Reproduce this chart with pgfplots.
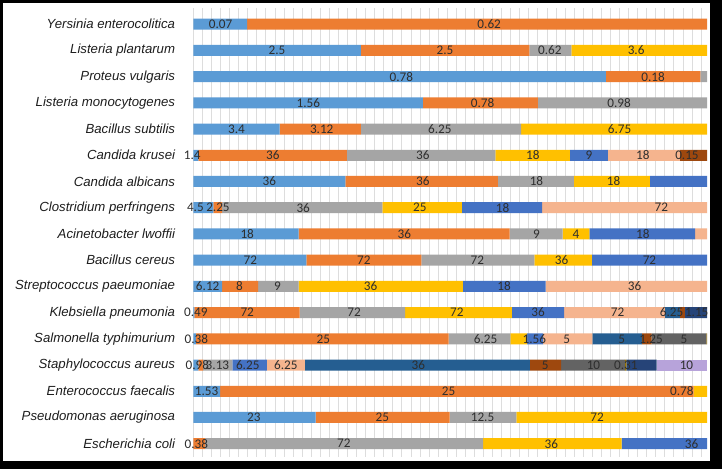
\documentclass[border=0pt]{standalone}
\usepackage{fontspec}
\usepackage{pgfplots}
\usepackage{pgfplotstable}
\pgfplotsset{compat=1.18}
\newfontfamily\arialfont{Liberation Sans}
\newfontfamily\calfont{Carlito}
\definecolor{c1}{HTML}{5B9BD5}
\definecolor{c2}{HTML}{ED7D31}
\definecolor{c3}{HTML}{A5A5A5}
\definecolor{c4}{HTML}{FFC000}
\definecolor{c5}{HTML}{4472C4}
\definecolor{c6}{HTML}{F5B48E}
\definecolor{c7}{HTML}{255E91}
\definecolor{c8}{HTML}{9E480E}
\definecolor{c9}{HTML}{636363}
\definecolor{c10}{HTML}{997300}
\definecolor{c11}{HTML}{264478}
\definecolor{c12}{HTML}{B7A3DA}
\definecolor{lbl}{HTML}{2E2E2E}
\definecolor{cat}{HTML}{1E1E1E}
\definecolor{gridc}{HTML}{DDDDDD}

\pgfplotstableread{
y s1 s2 s3 s4 s5 s6 s7 s8 s9 s10 s11 s12
0 10.5 89.5 0 0 0 0 0 0 0 0 0 0
1 32.6 32.8 8.2 26.4 0 0 0 0 0 0 0 0
2 80.3 18.4 1.3 0 0 0 0 0 0 0 0 0
3 44.7 22.4 32.9 0 0 0 0 0 0 0 0 0
4 16.8 15.8 31.2 36.2 0 0 0 0 0 0 0 0
5 1.0 28.9 28.9 14.5 7.4 14.0 0 5.3 0 0 0 0
6 29.6 29.7 14.8 14.8 11.1 0 0 0 0 0 0 0
7 3.9 1.7 31.2 15.5 15.6 32.1 0 0 0 0 0 0
8 20.5 41.1 10.3 5.2 20.6 2.3 0 0 0 0 0 0
9 22.0 22.4 22.0 11.2 22.4 0 0 0 0 0 0 0
10 5.6 7.0 7.9 32.0 16.1 31.4 0 0 0 0 0 0
11 0.2 20.5 20.55 20.75 10.2 19.6 2.9 1.0 0 0 4.3 0
12 0.5 49.2 12.0 3.3 3.1 9.6 9.6 1.9 10.7 0.1 0 0
13 1.0 0.9 5.7 0 6.7 7.4 43.8 6.1 12.4 0.3 5.9 9.8
14 5.2 92.2 0 2.6 0 0 0 0 0 0 0 0
15 23.8 26.1 13.0 37.1 0 0 0 0 0 0 0 0
16 0 2.3 54.1 27.0 16.6 0 0 0 0 0 0 0
}\bars

\pgfplotstableread{
x y label
5.3 0 0.07
57.6 0 0.62
16.3 1 2.5
49.0 1 2.5
69.4 1 0.62
86.2 1 3.6
40.5 2 0.78
89.5 2 0.18
22.4 3 1.56
56.3 3 0.78
82.9 3 0.98
8.4 4 3.4
25.0 4 3.12
48.0 4 6.25
83.0 4 6.75
-0.2 5 1.4
15.5 5 36
44.7 5 36
66.1 5 18
77.0 5 9
87.5 5 18
96.1 5 0.15
14.8 6 36
44.7 6 36
66.8 6 18
81.8 6 18
0.4 7 4.5
4.8 7 2.25
21.4 7 36
44.1 7 25
60.2 7 18
91.1 7 72
10.5 8 18
41.1 8 36
66.8 8 9
74.5 8 4
87.5 8 18
11.1 9 72
33.2 9 72
55.3 9 72
71.7 9 36
88.8 9 72
2.8 10 6.12
9.0 10 8
16.4 10 9
34.5 10 36
60.5 10 18
85.9 10 36
0.5 11 0.49
10.5 11 72
31.3 11 72
51.3 11 72
67.1 11 36
82.6 11 72
93.1 11 6.25
98.0 11 1.15
0.6 12 0.38
25.3 12 25
56.9 12 6.25
66.4 12 1.56
72.7 12 5
83.4 12 5
89.1 12 1.25
95.5 12 5
0.8 13 0.98
4.7 13 3.13
10.6 13 6.25
18.0 13 6.25
43.8 13 36
68.5 13 5
77.9 13 10
84.2 13 0.31
96.0 13 10
2.6 14 1.53
49.7 14 25
95.1 14 0.78
11.8 15 23
36.8 15 25
56.3 15 12.5
78.6 15 72
0.6 16 0.38
29.3 16 72
69.7 16 36
97.0 16 36
}\labels

\pgfplotsset{
  common/.style={
    at={(450.15pt,-232.6pt)}, anchor=center,
    scale only axis, width=513.7pt, height=448.4pt,
    xmin=0, xmax=100, ymin=-0.6, ymax=16.5, y dir=reverse,
  }
}

\begin{document}
\begin{tikzpicture}
\fill[black] (0pt,0pt) rectangle (722pt,-469pt);
\fill[white] (3pt,-3pt) rectangle (710pt,-461pt);
\begin{axis}[common,
  xbar stacked, bar width=11pt,
  axis line style={draw=none},
  major tick length=0pt,
  xtick={0,1.765,...,100}, xticklabel=\empty,
  xmajorgrids, grid style={draw=gridc, line width=0.7pt},
  ytick={0,...,16},
  yticklabels={Yersinia enterocolitica, Listeria plantarum, Proteus vulgaris, Listeria monocytogenes, Bacillus subtilis, Candida krusei, Candida albicans, Clostridium perfringens, Acinetobacter lwoffii, Bacillus cereus, Streptococcus paeumoniae, Klebsiella pneumonia, Salmonella typhimurium, Staphylococcus aureus, Enterococcus faecalis, Pseudomonas aeruginosa, Escherichia coli},
  yticklabel style={font=\arialfont\itshape\fontsize{13.2}{15}\selectfont, text=cat, anchor=east, inner sep=0pt, xshift=-18pt},
]
\addplot[fill=c1, draw=none] table[x=s1, y=y] {\bars};
\addplot[fill=c2, draw=none] table[x=s2, y=y] {\bars};
\addplot[fill=c3, draw=none] table[x=s3, y=y] {\bars};
\addplot[fill=c4, draw=none] table[x=s4, y=y] {\bars};
\addplot[fill=c5, draw=none] table[x=s5, y=y] {\bars};
\addplot[fill=c6, draw=none] table[x=s6, y=y] {\bars};
\addplot[fill=c7, draw=none] table[x=s7, y=y] {\bars};
\addplot[fill=c8, draw=none] table[x=s8, y=y] {\bars};
\addplot[fill=c9, draw=none] table[x=s9, y=y] {\bars};
\addplot[fill=c10, draw=none] table[x=s10, y=y] {\bars};
\addplot[fill=c11, draw=none] table[x=s11, y=y] {\bars};
\addplot[fill=c12, draw=none] table[x=s12, y=y] {\bars};
\end{axis}
\begin{axis}[common, hide axis, clip=false]
\addplot[draw=none, mark=none, nodes near coords, point meta=explicit symbolic,
  every node near coord/.append style={anchor=center, inner sep=0pt, font=\calfont\fontsize{13.2}{14}\selectfont, text=lbl}]
  table[x=x, y=y, meta=label] {\labels};
\end{axis}
\end{tikzpicture}
\end{document}
